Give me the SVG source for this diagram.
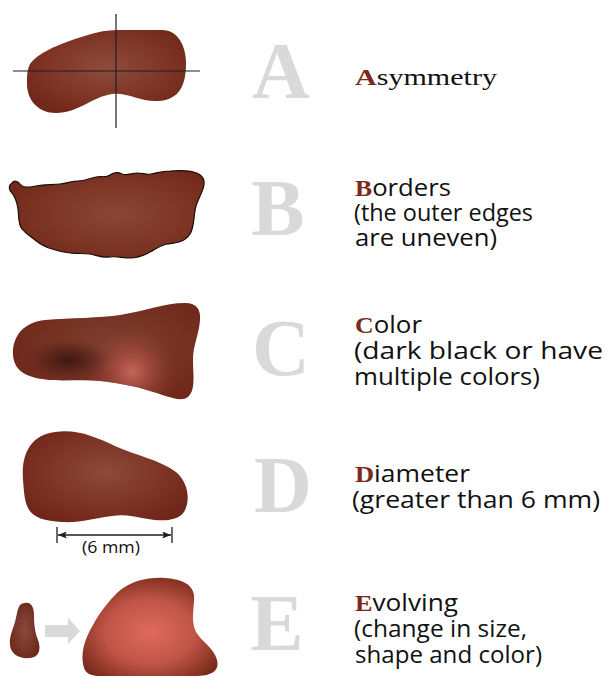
<svg xmlns="http://www.w3.org/2000/svg" width="607" height="677" viewBox="0 0 607 677">
  <style>
    .big { font-family: "Liberation Serif", "Times New Roman", serif; font-weight: bold; font-size: 80px; fill: #d9d9d9; text-anchor: middle; }
    .lbl { font-family: "Open Sans", "Liberation Sans", sans-serif; font-size: 24px; fill: #111111; }
    .serif { font-family: "Liberation Serif", "Times New Roman", serif; }
    .ini { font-family: "Liberation Serif", "Times New Roman", serif; font-weight: bold; fill: #7b2a1e; }
    .axis { stroke: #1e1e1e; stroke-width: 1.2; fill: none; }
    .dim { stroke: #1e1e1e; stroke-width: 1.3; fill: none; }
  </style>
  <defs>
    <radialGradient id="gA" cx="0.5" cy="0.45" r="0.6">
      <stop offset="0" stop-color="#8e4c3c"/>
      <stop offset="0.6" stop-color="#7f3626"/>
      <stop offset="1" stop-color="#71281a"/>
    </radialGradient>
    <radialGradient id="gB" cx="0.55" cy="0.5" r="0.6">
      <stop offset="0" stop-color="#8b4635"/>
      <stop offset="0.6" stop-color="#7d3625"/>
      <stop offset="1" stop-color="#72291b"/>
    </radialGradient>
    <radialGradient id="gC" cx="0.55" cy="0.45" r="0.6">
      <stop offset="0" stop-color="#7f4031"/>
      <stop offset="1" stop-color="#6f2819"/>
    </radialGradient>
    <radialGradient id="cDark" gradientUnits="userSpaceOnUse" cx="68" cy="360" r="42" gradientTransform="translate(68 360) scale(1 0.5) translate(-68 -360)">
      <stop offset="0" stop-color="#3a1712" stop-opacity="0.95"/>
      <stop offset="0.5" stop-color="#4a1d15" stop-opacity="0.6"/>
      <stop offset="1" stop-color="#5a2218" stop-opacity="0"/>
    </radialGradient>
    <radialGradient id="cLight" gradientUnits="userSpaceOnUse" cx="132" cy="372" r="45">
      <stop offset="0" stop-color="#c4665b" stop-opacity="1"/>
      <stop offset="0.5" stop-color="#a84c3f" stop-opacity="0.6"/>
      <stop offset="1" stop-color="#8a3a2c" stop-opacity="0"/>
    </radialGradient>
    <radialGradient id="gD" cx="0.5" cy="0.45" r="0.6">
      <stop offset="0" stop-color="#8d4a3a"/>
      <stop offset="0.6" stop-color="#7d3424"/>
      <stop offset="1" stop-color="#70271a"/>
    </radialGradient>
    <radialGradient id="gE1" cx="0.5" cy="0.5" r="0.6">
      <stop offset="0" stop-color="#8a4a3c"/>
      <stop offset="1" stop-color="#6b2619"/>
    </radialGradient>
    <radialGradient id="gE2" cx="0.5" cy="0.55" r="0.6">
      <stop offset="0" stop-color="#df6a5d"/>
      <stop offset="0.55" stop-color="#bf5546"/>
      <stop offset="1" stop-color="#7a2a1c"/>
    </radialGradient>
    <marker id="tip" viewBox="0 0 10 8" refX="10" refY="4" markerWidth="9" markerHeight="7" markerUnits="userSpaceOnUse" orient="auto-start-reverse">
      <path d="M0,0 L10,4 L0,8 L2,4 Z" fill="#1e1e1e"/>
    </marker>
  </defs>

  <!-- A : asymmetry -->
  <g id="row-a">
    <path d="M30,64 C40,50 70,40 95,33 C105,30 115,30 125,30 L162,30 C178,30 186,46 186,64 C186,84 180,100 158,101 C140,102 128,92 112,94 C92,97 78,113 56,113 C38,113 27,100 27,84 C27,76 27,70 30,64 Z" fill="url(#gA)"/>
    <line class="axis" x1="116" y1="14" x2="116" y2="128"/>
    <line class="axis" x1="13" y1="71" x2="200" y2="71"/>
    <text class="big" x="281" y="98">A</text>
    <text class="lbl serif" x="355" y="85" font-size="24" textLength="142" lengthAdjust="spacingAndGlyphs"><tspan class="ini">A</tspan>symmetry</text>
  </g>

  <!-- B : borders -->
  <g id="row-b">
    <path d="M12,183 C14,180 18,181 20,184 C23,188 28,188 36,186 C45,184 52,185 60,184 C68,183 72,181 78,181 C85,181 90,178 96,177 C102,176 106,178 110,175 C114,172 118,172 122,174 C127,176 132,173 137,173 C143,173 146,175 151,174 C157,173 162,171 170,171 C182,170 198,170 203,178 C207,186 199,196 196,206 C193,216 195,226 190,234 C185,242 176,243 168,244 C160,245 156,249 150,252 C143,256 138,258 130,258 C122,258 118,256 110,257 C102,258 96,255 90,254 C82,253 78,254 70,253 C62,252 58,251 52,249 C45,247 40,244 35,240 C30,236 26,234 22,229 C18,224 19,216 18,209 C17,202 15,197 12,193 C8,189 9,185 12,183 Z" fill="url(#gB)" stroke="#1a0d0a" stroke-width="1.2"/>
    <text class="big" x="278" y="235">B</text>
    <text class="lbl" x="355" y="196" textLength="96" lengthAdjust="spacingAndGlyphs"><tspan class="ini">B</tspan>orders</text>
    <text class="lbl" x="354" y="221" textLength="179" lengthAdjust="spacingAndGlyphs">(the outer edges</text>
    <text class="lbl" x="355" y="246" textLength="142" lengthAdjust="spacingAndGlyphs">are uneven)</text>
  </g>

  <!-- C : color -->
  <g id="row-c">
    <path d="M13,355 C12,335 25,322 45,320 C70,318 100,318 120,315 C145,311 165,303 185,303 C197,303 201,310 200,320 C199,335 193,345 193,360 C193,375 196,390 188,397 C180,403 165,395 150,391 C135,386 118,383 100,381 C80,379 60,382 42,379 C22,376 14,368 13,355 Z" fill="url(#gC)"/>
    <path d="M13,355 C12,335 25,322 45,320 C70,318 100,318 120,315 C145,311 165,303 185,303 C197,303 201,310 200,320 C199,335 193,345 193,360 C193,375 196,390 188,397 C180,403 165,395 150,391 C135,386 118,383 100,381 C80,379 60,382 42,379 C22,376 14,368 13,355 Z" fill="url(#cLight)"/>
    <path d="M13,355 C12,335 25,322 45,320 C70,318 100,318 120,315 C145,311 165,303 185,303 C197,303 201,310 200,320 C199,335 193,345 193,360 C193,375 196,390 188,397 C180,403 165,395 150,391 C135,386 118,383 100,381 C80,379 60,382 42,379 C22,376 14,368 13,355 Z" fill="url(#cDark)"/>
    <text class="big" x="281" y="375">C</text>
    <text class="lbl" x="355" y="333" textLength="67" lengthAdjust="spacingAndGlyphs"><tspan class="ini">C</tspan>olor</text>
    <text class="lbl" x="354" y="359" textLength="249" lengthAdjust="spacingAndGlyphs">(dark black or have</text>
    <text class="lbl" x="354" y="385" textLength="186" lengthAdjust="spacingAndGlyphs">multiple colors)</text>
  </g>

  <!-- D : diameter -->
  <g id="row-d">
    <path d="M23,480 C21,455 30,435 55,432 C78,429 95,437 115,446 C135,455 160,460 176,472 C188,482 191,500 184,512 C177,522 160,521 148,519 C135,517 125,514 112,516 C95,518 80,523 62,522 C45,521 33,518 28,508 C24,500 24,490 23,480 Z" fill="url(#gD)"/>
    <line class="dim" x1="57" y1="527" x2="57" y2="543"/>
    <line class="dim" x1="172" y1="527" x2="172" y2="543"/>
    <line class="dim" x1="58" y1="535" x2="171" y2="535" marker-start="url(#tip)" marker-end="url(#tip)"/>
    <text x="111" y="553" font-family="'Open Sans', 'Liberation Sans', sans-serif" font-size="17" fill="#111111" text-anchor="middle" textLength="58" lengthAdjust="spacingAndGlyphs">(6 mm)</text>
    <text class="big" x="283" y="512">D</text>
    <text class="lbl" x="355" y="482" textLength="115" lengthAdjust="spacingAndGlyphs"><tspan class="ini">D</tspan>iameter</text>
    <text class="lbl" x="352" y="508" textLength="248" lengthAdjust="spacingAndGlyphs">(greater than 6 mm)</text>
  </g>

  <!-- E : evolving -->
  <g id="row-e">
    <path d="M25,603 C31,602 34,607 34,615 C34,625 35,632 38,640 C41,648 40,657 30,658 C20,659 11,655 10,645 C9,635 14,628 16,618 C18,608 19,603 25,603 Z" fill="url(#gE1)"/>
    <polygon points="45,625 68,625 68,618 80,631 68,644 68,637 45,637" fill="#d9d9d9"/>
    <path d="M84,668 C80,655 84,640 93,625 C100,612 108,602 118,592 C132,580 150,577 165,578 C180,579 192,583 194,595 C195,605 190,620 196,632 C202,642 214,648 217,660 C220,672 210,676 195,676 L100,676 C92,676 86,674 84,668 Z" fill="url(#gE2)"/>
    <text class="big" x="277" y="650">E</text>
    <text class="lbl" x="355" y="611" textLength="103" lengthAdjust="spacingAndGlyphs"><tspan class="ini">E</tspan>volving</text>
    <text class="lbl" x="354" y="637" textLength="173" lengthAdjust="spacingAndGlyphs">(change in size,</text>
    <text class="lbl" x="355" y="663" textLength="187" lengthAdjust="spacingAndGlyphs">shape and color)</text>
  </g>
</svg>
